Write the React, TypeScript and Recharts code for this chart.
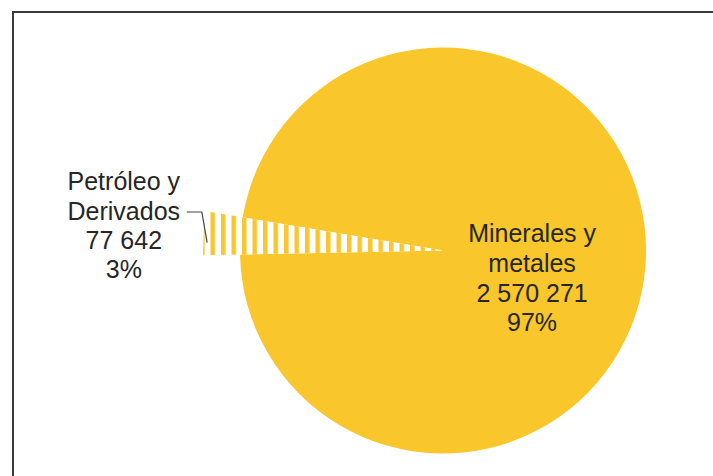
import React from 'react';
import { PieChart, Pie, Cell } from 'recharts';

const categories = ['Petróleo y Derivados', 'Minerales y metales'];
const categoryLines = [['Petróleo y', 'Derivados'], ['Minerales y', 'metales']];
const values = [77642, 2570271];

const YELLOW = '#F9C62B';
const TEXT = '#262626';
const FONT = '"Liberation Sans", Arial, sans-serif';

const data = categories.map((name, i) => ({ name, value: values[i], lines: categoryLines[i] }));

const fmt = (v: number) => String(v).replace(/\B(?=(\d{3})+(?!\d))/g, ' ');
const RAD = Math.PI / 180;
const polar = (cx: number, cy: number, r: number, a: number) => ({
  x: cx + r * Math.cos(-a * RAD),
  y: cy + r * Math.sin(-a * RAD),
});

const renderLabel = (props: any) => {
  const { cx, cy, midAngle, outerRadius, index, value, percent } = props;
  const lines = [...data[index].lines, fmt(value), `${Math.round(percent * 100)}%`];
  if (index === 0) {
    const a = polar(cx, cy, outerRadius + 117, midAngle);
    const offs = [-46, -16, 13, 42];
    const edge = polar(cx, cy, outerRadius + 33, midAngle + 2.2);
    const lx = a.x + 63;
    const ly = a.y - 15.5;
    return (
      <g>
        <polyline points={`${lx},${ly} ${lx + 15},${ly} ${edge.x},${edge.y}`} fill="none" stroke="#444" strokeWidth={1.2} />
        {lines.map((t, i) => (
          <text key={i} x={a.x} y={a.y + offs[i]} textAnchor="middle" dominantBaseline="central" fontFamily={FONT} fontSize={25} fill={TEXT}>{t}</text>
        ))}
      </g>
    );
  }
  const a = polar(cx, cy, outerRadius * 0.44, midAngle);
  const offs = [-24, 6, 36, 65];
  return (
    <g>
      {lines.map((t, i) => (
        <text key={i} x={a.x} y={a.y + offs[i]} textAnchor="middle" dominantBaseline="central" fontFamily={FONT} fontSize={25} fill={TEXT}>{t}</text>
      ))}
    </g>
  );
};

export default function App() {
  return (
    <div style={{ position: 'absolute', left: 0, top: 0, width: 713, height: 476, background: '#fff', overflow: 'hidden' }}>
      <div style={{ position: 'absolute', left: 12, top: 11, width: 800, height: 600, borderTop: '2px solid #3a3a3a', borderLeft: '2px solid #3a3a3a' }} />
      <div style={{ position: 'absolute', left: 0, top: 0 }}>
        <PieChart width={713} height={476}>
          <defs>
            <pattern id="stripes" patternUnits="userSpaceOnUse" x={200} y={0} width={10.5} height={10}>
              <rect x={0} y={0} width={10.5} height={10} fill="#fff" />
              <rect x={0} y={0} width={4.5} height={10} fill={YELLOW} />
            </pattern>
          </defs>
          <Pie
            data={data}
            dataKey="value"
            nameKey="name"
            cx={438}
            cy={245.5}
            outerRadius={203}
            startAngle={170.6}
            endAngle={530.6}
            stroke="none"
            isAnimationActive={false}
            labelLine={false}
            label={renderLabel}
          >
            <Cell fill="none" />
            <Cell fill={YELLOW} />
          </Pie>
          <Pie
            data={data}
            dataKey="value"
            nameKey="name"
            cx={438}
            cy={245.5}
            outerRadius={240}
            startAngle={170.6}
            endAngle={530.6}
            stroke="none"
            isAnimationActive={false}
            labelLine={false}
            label={false}
          >
            <Cell fill="url(#stripes)" />
            <Cell fill="none" />
          </Pie>
        </PieChart>
      </div>
    </div>
  );
}
